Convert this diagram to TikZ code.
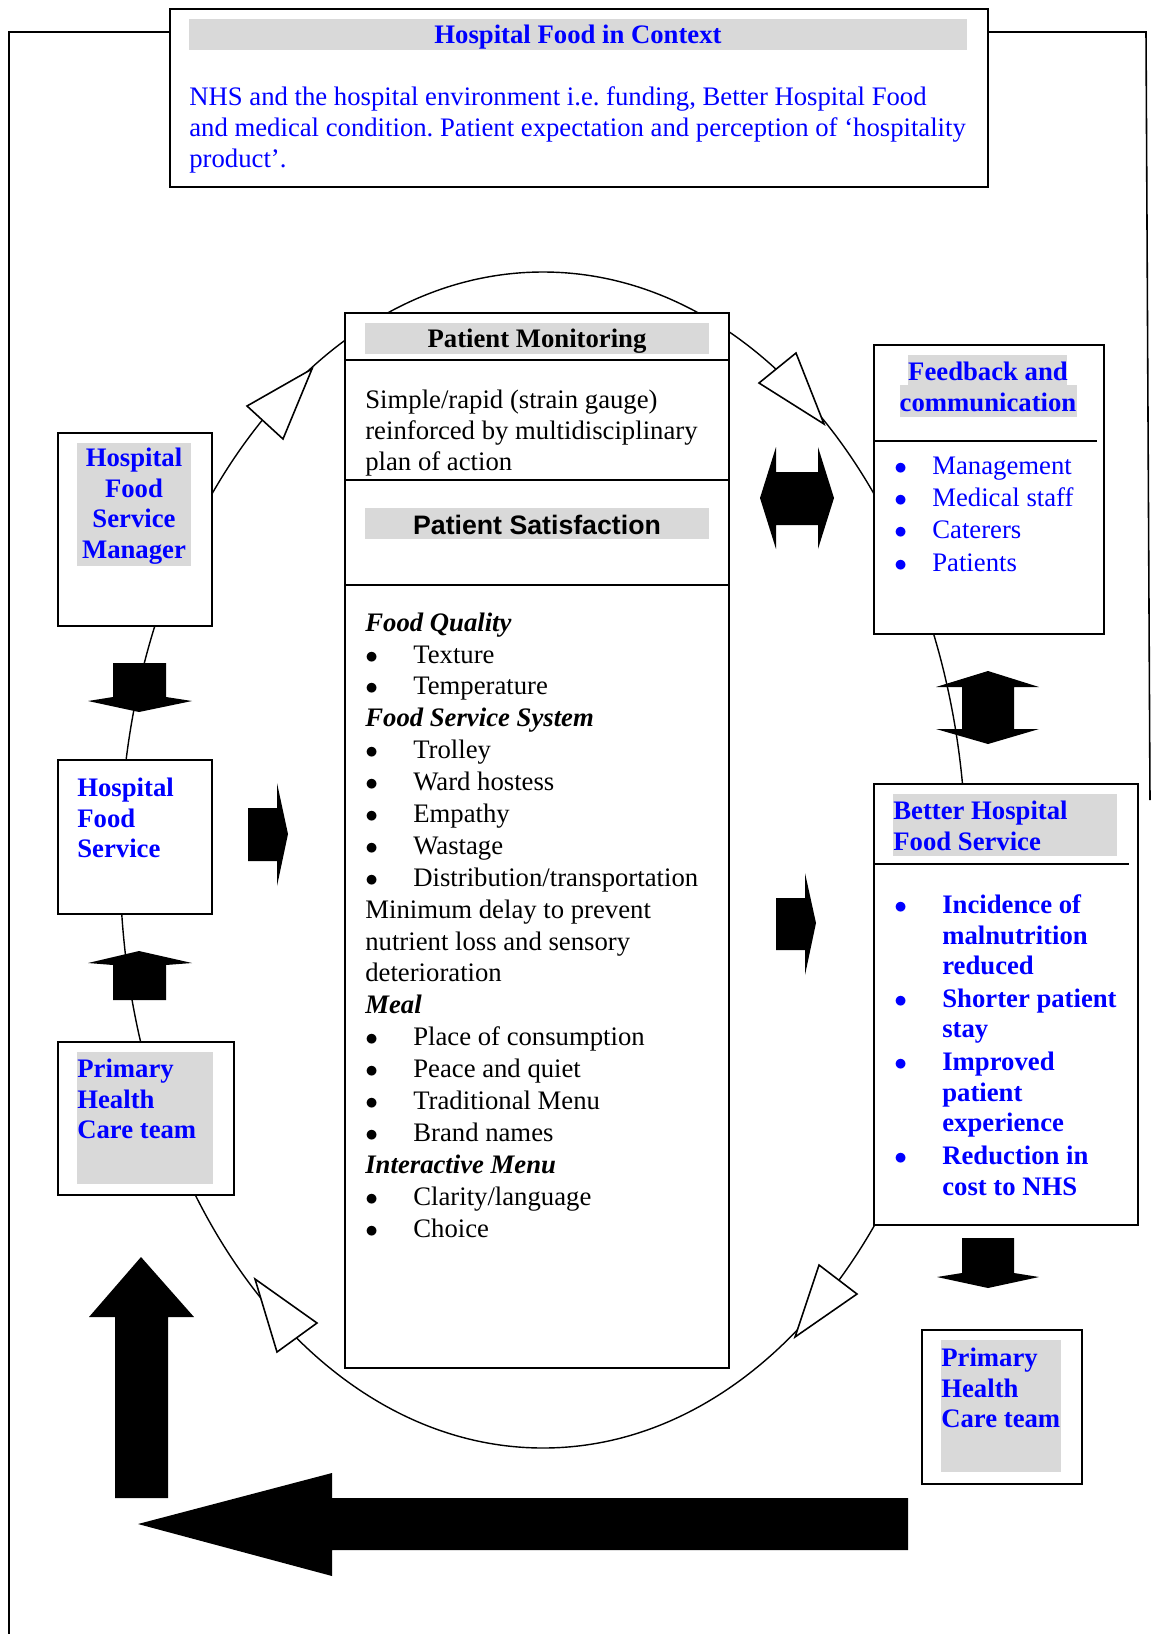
\documentclass[tikz,border=0pt]{standalone}
\usepackage{fontspec}
\setmainfont{Liberation Serif}
\newfontfamily\arialfont{Liberation Sans}
\usepackage{tikz}
\usetikzlibrary{positioning}
\frenchspacing

\definecolor{barGray}{RGB}{217,217,217}
\definecolor{textBlue}{RGB}{0,0,255}

\newcommand{\itembul}[1][0.96cm]{\makebox[#1][l]{$\bullet$}}
\newcommand{\hang}{\hspace*{0.96cm}}

\tikzset{
  box/.style={draw, fill=white, line width=1.1pt, anchor=north west, inner sep=0pt},
  divider/.style={line width=1.1pt},
  plaintext/.style={inner sep=0pt, anchor=west, align=left, font=\fontsize{15.2}{17.4}\selectfont},
  listtext/.style={inner sep=0pt, anchor=west, align=left, font=\fontsize{15.2}{18.15}\selectfont},
  bluetext/.style={inner sep=0pt, anchor=west, align=left, text=textBlue, font=\fontsize{15.2}{17.4}\selectfont\bfseries},
  titletext/.style={inner sep=0pt, font=\fontsize{15.2}{17.4}\selectfont\bfseries},
  cycleline/.style={line width=0.8pt},
  openhead/.style={draw, fill=white, line width=0.9pt, line join=miter},
  blockarrow/.style={fill=black}
}

\begin{document}
\begin{tikzpicture}[x=0.02cm, y=-0.02cm]
      \useasboundingbox (0,0) rectangle (1152,1634);

      %% frame round everything
      \draw[line width=0.9pt] (9,1634) -- (9,32) -- (1146,32) -- (1150,800);

      %% the cycle and its heads
      \draw[cycleline] (543,860) ellipse [x radius=423, y radius=588];
      \draw[openhead] (312,369) -- (247,406) -- (283,439) -- cycle;
      \draw[openhead] (824,424) -- (796,353) -- (759,383) -- cycle;
      \draw[openhead] (795,1337) -- (819,1265) -- (857,1294) -- cycle;
      \draw[openhead] (255,1279) -- (317,1323) -- (277,1352) -- cycle;

      %% context
      \node (ctx) at (169,8) [box, minimum width=16.36cm, minimum height=3.56cm] {};
      \fill[barGray] (189,19) rectangle (967,50);
      \node (ctxtitle) at (578,37) [titletext, text=textBlue] {Hospital Food in Context};
      \node (ctxtext) at (189,130) [plaintext, text=textBlue] {NHS and the hospital environment i.e. funding, Better Hospital Food\\and medical condition. Patient expectation and perception of ‘hospitality\\product’.};

      %% patient monitoring / satisfaction
      \node (pm) at (344,312) [box, minimum width=7.68cm, minimum height=21.1cm] {};
      \draw[divider] (344,360) -- (728,360);
      \draw[divider] (344,480) -- (728,480);
      \draw[divider] (344,585) -- (728,585);
      \fill[barGray] (365,323) rectangle (709,354);
      \node (pmtitle) at (537,341) [titletext] {Patient Monitoring};
      \node (pmtext) at (365,433) [plaintext] {Simple/rapid (strain gauge)\\reinforced by multidisciplinary\\plan of action};
      \fill[barGray] (365,508) rectangle (709,539);
      \node (pstitle) at (537,525) [titletext, font=\arialfont\fontsize{15.2}{17.4}\selectfont\bfseries] {Patient Satisfaction};
      \node (pslist) at (365,925) [listtext] {\textbf{\textit{Food Quality}}\\
        \itembul Texture\\
        \itembul Temperature\\
        \textbf{\textit{Food Service System}}\\
        \itembul Trolley\\
        \itembul Ward hostess\\
        \itembul Empathy\\
        \itembul Wastage\\
        \itembul Distribution/transportation\\
        Minimum delay to prevent\\
        nutrient loss and sensory\\
        deterioration\\
        \textbf{\textit{Meal}}\\
        \itembul Place of consumption\\
        \itembul Peace and quiet\\
        \itembul Traditional Menu\\
        \itembul Brand names\\
        \textbf{\textit{Interactive Menu}}\\
        \itembul Clarity/language\\
        \itembul Choice};

      %% left column
      \node (hfsm) at (57,432) [box, minimum width=3.08cm, minimum height=3.86cm] {};
      \fill[barGray] (77,443) rectangle (191,566);
      \node (hfsmtext) at (134,506) [bluetext, anchor=center, align=center] {Hospital\\Food\\Service\\Manager};

      \node (hfs) at (57,759) [box, minimum width=3.08cm, minimum height=3.08cm] {};
      \node (hfstext) at (77,818) [bluetext] {Hospital\\Food\\Service};

      \node (phctl) at (57,1041) [box, minimum width=3.52cm, minimum height=3.06cm] {};
      \fill[barGray] (77,1052) rectangle (213,1184);
      \node (phctltext) at (77,1099) [bluetext] {Primary\\Health\\Care team};

      %% right column
      \node (fb) at (873,344) [box, minimum width=4.6cm, minimum height=5.78cm] {};
      \fill[barGray] (908,355) rectangle (1067,385);
      \fill[barGray] (900,385) rectangle (1077,417);
      \node (fbtitle) at (988,387) [bluetext, anchor=center, align=center] {Feedback and\\communication};
      \draw[divider] (873,441) -- (1097,441);
      \node (fblist) at (894,514) [plaintext, text=textBlue, font=\fontsize{15.2}{18.4}\selectfont] {\itembul[0.76cm]Management\\
        \itembul[0.76cm]Medical staff\\
        \itembul[0.76cm]Caterers\\
        \itembul[0.76cm]Patients};

      \node (better) at (873,783) [box, minimum width=5.28cm, minimum height=8.82cm] {};
      \fill[barGray] (893,794) rectangle (1117,856);
      \node (bettertitle) at (893,826) [bluetext] {Better Hospital\\Food Service};
      \draw[divider] (873,864) -- (1129,864);
      \node (betterlist) at (894,1045) [bluetext] {\itembul Incidence of\\
        \hang malnutrition\\
        \hang reduced\\[1.2pt]
        \itembul Shorter patient\\
        \hang stay\\[1.2pt]
        \itembul Improved\\
        \hang patient\\
        \hang experience\\[1.2pt]
        \itembul Reduction in\\
        \hang cost to NHS};

      \node (phctr) at (921,1329) [box, minimum width=3.2cm, minimum height=3.08cm] {};
      \fill[barGray] (941,1340) rectangle (1061,1472);
      \node (phctrtext) at (941,1388) [bluetext] {Primary\\Health\\Care team};

      %% block arrows
      \fill[blockarrow] (113,663) -- (166,663) -- (166,697) -- (192,701) -- (139,712) -- (88,701) -- (113,697) -- cycle;
      \fill[blockarrow] (113,1000) -- (166,1000) -- (166,965) -- (192,963) -- (139,951) -- (88,963) -- (113,965) -- cycle;
      \fill[blockarrow] (248,808) -- (277,808) -- (277,783) -- (288,834) -- (277,886) -- (277,861) -- (248,861) -- cycle;
      \fill[blockarrow] (760,498) -- (776,447) -- (776,472) -- (818,472) -- (818,447) -- (834,498) -- (818,549) -- (818,525) -- (776,525) -- (776,549) -- cycle;
      \fill[blockarrow] (988,671) -- (1039,687) -- (1014,687) -- (1014,729) -- (1039,729) -- (988,744) -- (936,729) -- (962,729) -- (962,687) -- (936,687) -- cycle;
      \fill[blockarrow] (776,898) -- (805,898) -- (805,873) -- (816,923) -- (805,975) -- (805,950) -- (776,950) -- cycle;
      \fill[blockarrow] (962,1238) -- (1014,1238) -- (1014,1273) -- (1039,1277) -- (988,1288) -- (937,1277) -- (962,1273) -- cycle;
      \fill[blockarrow] (115,1498) -- (168,1498) -- (168,1317) -- (194,1317) -- (141,1257) -- (89,1317) -- (115,1317) -- cycle;
      \fill[blockarrow] (908,1498) -- (908,1550) -- (332,1550) -- (332,1576) -- (138,1524) -- (332,1473) -- (332,1498) -- cycle;

    \end{tikzpicture}
\end{document}
